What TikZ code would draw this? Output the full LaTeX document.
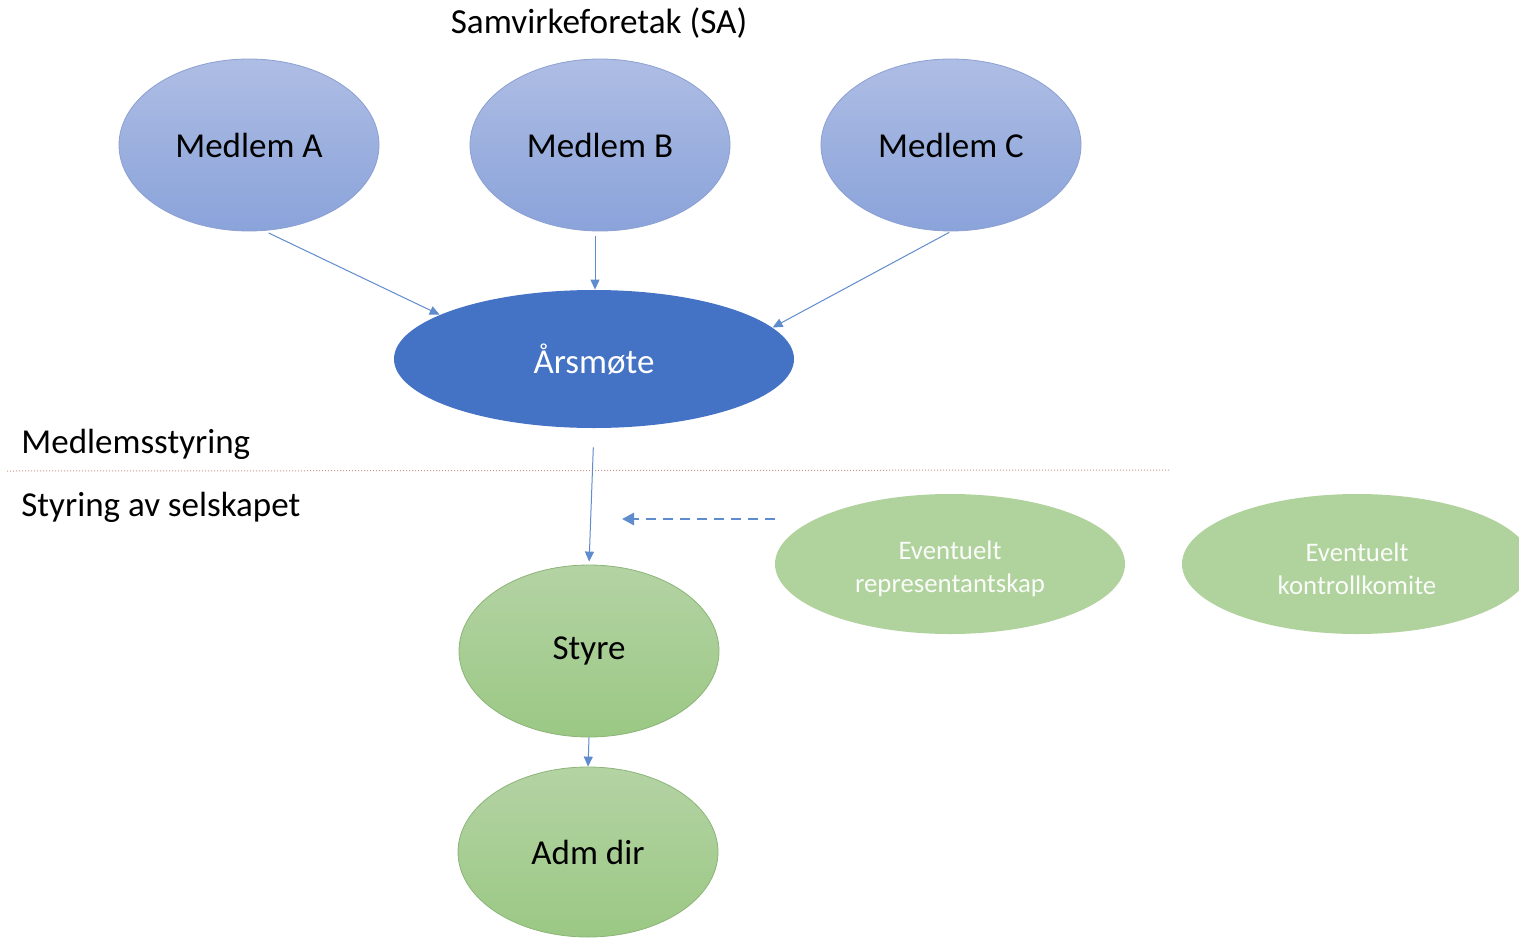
\documentclass[tikz,border=0pt]{standalone}
\usepackage{fontspec}
\setmainfont{Carlito}
\usetikzlibrary{shapes.geometric,arrows.meta}
\definecolor{SaBlueTop}{RGB}{174,189,228}
\definecolor{SaBlueBot}{RGB}{138,163,218}
\definecolor{SaBlueLine}{RGB}{140,160,210}
\definecolor{SaMeeting}{RGB}{68,114,196}
\definecolor{SaGreenTop}{RGB}{180,211,164}
\definecolor{SaGreenBot}{RGB}{155,200,132}
\definecolor{SaGreenLine}{RGB}{140,180,120}
\definecolor{SaGreenFlat}{RGB}{176,210,156}
\definecolor{SaArrow}{RGB}{95,140,205}
\definecolor{SaSplit}{RGB}{200,150,140}

\begin{document}
\begin{tikzpicture}[x=0.5pt,y=-0.5pt,
   member/.style={ellipse,draw=SaBlueLine,line width=0.4pt,top color=SaBlueTop,bottom color=SaBlueBot,minimum width=130pt,minimum height=86pt,inner sep=0pt,font=\fontsize{17.5}{21}\selectfont},
   board/.style={ellipse,draw=SaGreenLine,line width=0.4pt,top color=SaGreenTop,bottom color=SaGreenBot,minimum width=130pt,minimum height=86pt,inner sep=0pt,font=\fontsize{17.5}{21}\selectfont},
   option/.style={ellipse,fill=SaGreenFlat,minimum width=175pt,minimum height=70pt,inner sep=0pt,text=white!94!SaGreenFlat,align=center,font=\fontsize{13.4}{16.5}\selectfont},
   lbl/.style={inner sep=0pt,font=\fontsize{17.5}{21}\selectfont},
   arr/.style={draw=SaArrow,line width=0.5pt,-{Triangle[length=5pt,width=4.5pt]}}]
\useasboundingbox (0,0) rectangle (1519,937);

\node[lbl,font=\fontsize{17.6}{21}\selectfont] (title) at (599,23) {Samvirkeforetak (SA)};

\node[member] (mA) at (249,145) {Medlem A};
\node[member] (mB) at (600,145) {Medlem B};
\node[member] (mC) at (951,145) {Medlem C};

\node[ellipse,fill=SaMeeting,minimum width=200pt,minimum height=69pt,inner sep=0pt,text=white,font=\fontsize{17.5}{21}\selectfont] (ars) at (594,359) {Årsmøte};

\node[lbl,anchor=west] (upper) at (21,444) {Medlemsstyring};
\node[lbl,anchor=west] (lower) at (21,507) {Styring av selskapet};
\coordinate (splitL) at (7,471);
\coordinate (splitR) at (1170,470);
\draw[SaSplit,line width=0.5pt,densely dotted] (splitL) -- (splitR);

\node[board] (styre) at (589,651) {Styre};
\node[board,minimum height=85pt] (adm) at (588,852) {Adm dir};

\node[option] (repr) at (950,564) {\rule{0pt}{14pt}Eventuelt\\representantskap};
\node[option] (kontr) at (1357,564) {\rule{0pt}{14pt}Eventuelt\\kontrollkomite};

\draw[arr,shorten <=2.5pt] (mA.280) -- (ars.164);
\draw[arr,shorten <=2.5pt] ([xshift=-2.5pt]mB.south) -- ([xshift=0.5pt]ars.north);
\draw[arr,shorten <=1pt] (mC.south) -- (ars.10);
\draw[arr,shorten <=9.5pt,shorten >=1.5pt] (ars.south) -- (styre.north);
\draw[arr] (styre.south) -- (adm.north);

\coordinate (dashS) at (775,519);
\coordinate (dashE) at (622,519);
\draw[SaArrow,line width=1.4pt,dash pattern=on 5pt off 3.5pt,-{Triangle[length=6pt,width=6pt]}] (dashS) -- (dashE);
\end{tikzpicture}
\end{document}
